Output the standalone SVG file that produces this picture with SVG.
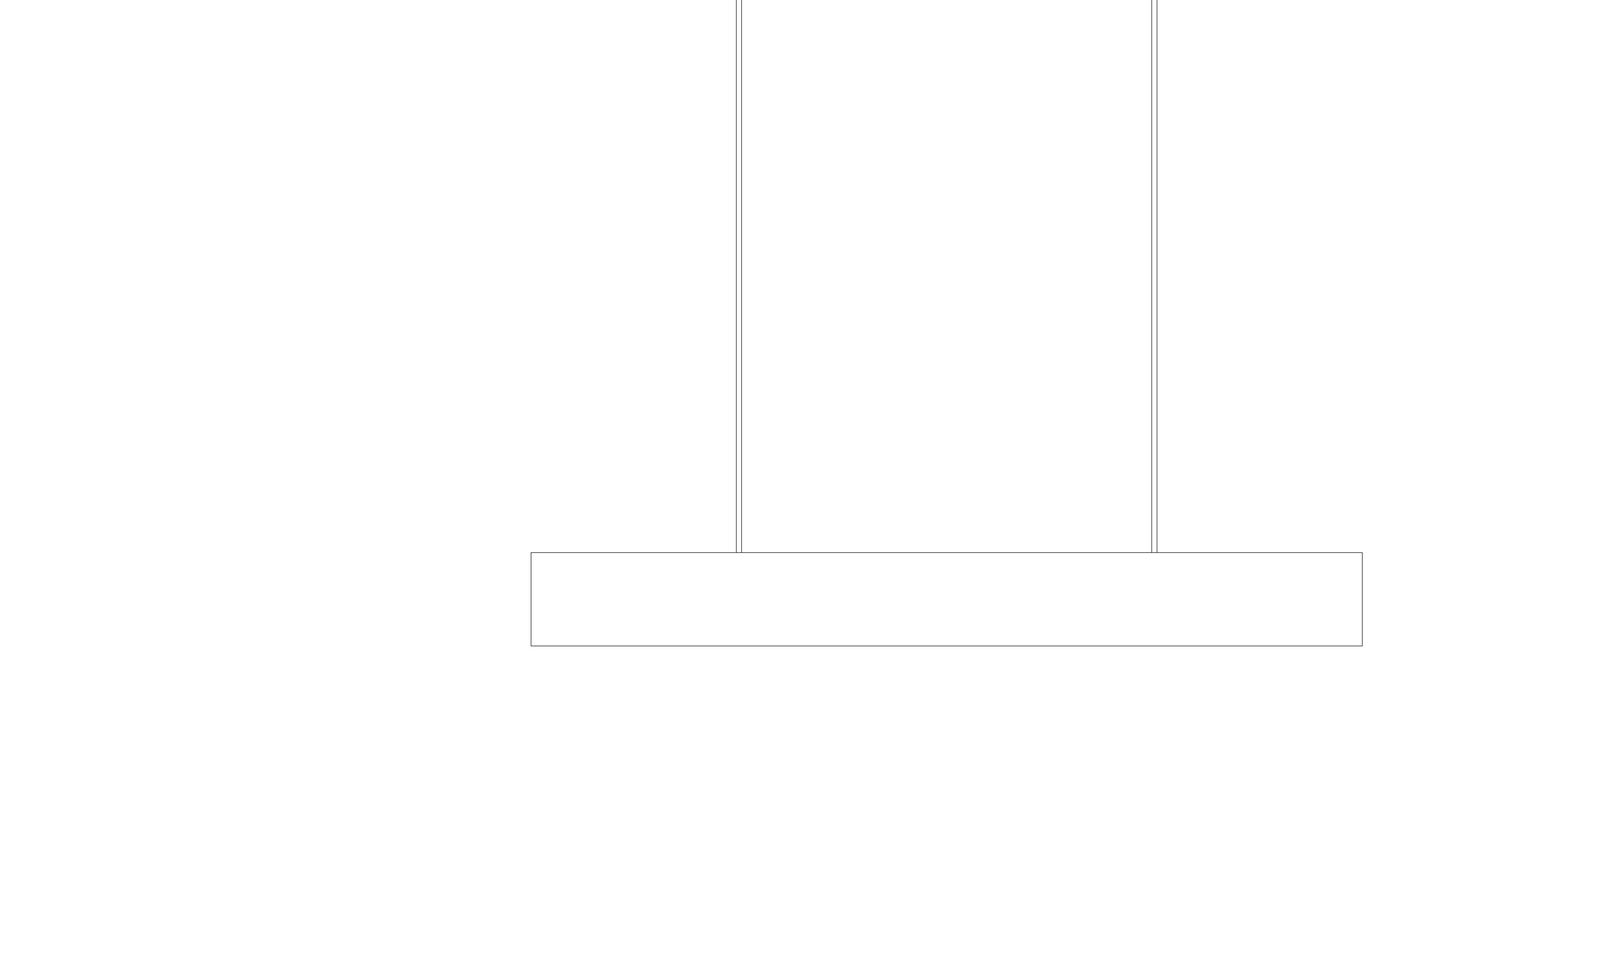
<svg xmlns="http://www.w3.org/2000/svg" width="5000" height="2465" viewBox="0 0 5000 2465">
<style>
.ln{stroke:#000;stroke-width:1.3;fill:none}
.box{stroke:#000;stroke-width:1.3;fill:#fff}
</style>
<rect width="5000" height="2465" fill="#fff"/>
<g id="connectors">
<line class="ln" x1="1885" y1="0" x2="1885" y2="1414"/>
<line class="ln" x1="1898.5" y1="0" x2="1898.5" y2="1414"/>
<line class="ln" x1="2948.5" y1="0" x2="2948.5" y2="1414"/>
<line class="ln" x1="2962" y1="0" x2="2962" y2="1414"/>
</g>
<g id="node-base">
<rect class="box" x="1359.5" y="1414.5" width="2128" height="239"/>
</g>
</svg>
